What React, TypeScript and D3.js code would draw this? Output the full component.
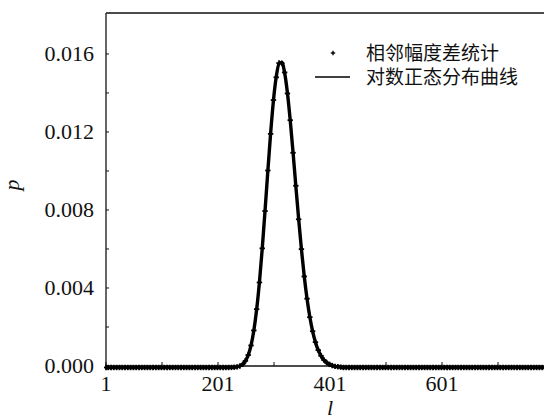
import React from "react";
import * as d3 from "d3";

// l values (step 5) in the peak region and observed statistics p
const peakL = [215,220,225,230,235,240,245,250,255,260,265,270,275,280,285,290,295,300,305,310,315,320,325,330,335,340,345,350,355,360,365,370,375,380,385,390,395,400,405,410,415,420];
const statP = [0,0.000001,0.000004,0.000012,0.00003,0.000075,0.00016,0.00034,0.00064,0.00113,0.0019,0.00299,0.00436,0.00611,0.00802,0.01010,0.01198,0.01371,0.01488,0.01561,0.01560,0.01513,0.01405,0.01268,0.01101,0.00932,0.00760,0.00607,0.00467,0.00353,0.00258,0.00186,0.00130,0.00089,0.0006,0.00039,0.00025,0.00016,0.0001,0.00006,0.00004,0.00002];
// fitted log-normal curve sampled at the same l
const fitP = [0,0.000001,0.000004,0.000011,0.00003,0.000073,0.000163,0.000336,0.000641,0.00114,0.0019,0.002973,0.004382,0.006095,0.008041,0.010076,0.012015,0.013686,0.014906,0.015577,0.015635,0.015108,0.014078,0.012667,0.011033,0.009305,0.007616,0.006053,0.004681,0.003524,0.002589,0.001857,0.0013,0.000889,0.000598,0.000393,0.000252,0.00016,0.000099,0.000061,0.000036,0.000021];
const lRange = [1, 1000]; // sampled l range; outside the peak p = 0
const xTicks = [1, 201, 401, 601];
const yTicks = [0, 0.004, 0.008, 0.012, 0.016];
const legendLabels = ["相邻幅度差统计", "对数正态分布曲线"];

export default function App() {
  const W = 544, H = 416;
  const x = d3.scaleLinear().domain([1, 1001]).range([106, 666]);
  const y = d3.scaleLinear().domain([0, 0.0181]).range([366, 13]);
  const yData = d3.scaleLinear().domain([0, 0.0181]).range([367.5, 14.5]);

  const allL = [lRange[0], ...d3.range(5, lRange[1] + 1, 5)];
  const pts = allL.map((l) => {
    const i = peakL.indexOf(l);
    return { l, p: i >= 0 ? statP[i] : 0 };
  });
  const fitPts = allL.map((l) => {
    const i = peakL.indexOf(l);
    return { l, p: i >= 0 ? fitP[i] : 0 };
  });
  const line = d3.line<{ l: number; p: number }>().x((d) => x(d.l)).y((d) => yData(d.p)).curve(d3.curveMonotoneX);

  const minorX = d3.range(101, 1001, 200);
  const minorY = [0.002, 0.006, 0.01, 0.014];
  const serif = "'Liberation Serif', serif";
  const cjk = "'Noto Sans CJK SC', sans-serif";
  const plus = (cx: number, cy: number, s: number, k: string, sw = 1.6) => (
    <g key={k}>
      <line x1={cx - s} x2={cx + s} y1={cy} y2={cy} stroke="#000" strokeWidth={sw} />
      <line x1={cx} x2={cx} y1={cy - s} y2={cy + s} stroke="#000" strokeWidth={sw} />
    </g>
  );

  return (
    <svg width={W} height={H} style={{ position: "absolute", left: 0, top: 0, background: "#fff" }}>
      <defs>
        <clipPath id="plot">
          <rect x={104} y={0} width={W} height={H} />
        </clipPath>
      </defs>
      {/* frame */}
      <line x1={106} x2={W} y1={13} y2={13} stroke="#111" strokeWidth={1.5} />
      <line x1={106} x2={106} y1={13} y2={366} stroke="#333" strokeWidth={1.5} />
      <line x1={106} x2={W} y1={366} y2={366} stroke="#111" strokeWidth={1.3} />
      {/* y ticks */}
      {yTicks.map((t) => (
        <g key={"y" + t}>
          <line x1={106} x2={109} y1={y(t)} y2={y(t)} stroke="#111" strokeWidth={1} />
          <text x={94} y={y(t) + 7} textAnchor="end" fontFamily={serif} fontSize={22} fill="#111">
            {t.toFixed(3)}
          </text>
        </g>
      ))}
      {minorY.map((t) => (
        <line key={"my" + t} x1={106} x2={109} y1={y(t)} y2={y(t)} stroke="#111" strokeWidth={1} />
      ))}
      {/* x ticks */}
      {xTicks.map((t) => (
        <g key={"x" + t}>
          <line x1={x(t)} x2={x(t)} y1={366} y2={362} stroke="#111" strokeWidth={1} />
          <text x={x(t)} y={391} textAnchor="middle" fontFamily={serif} fontSize={22} fill="#111">
            {t}
          </text>
        </g>
      ))}
      {minorX.map((t) => (
        <line key={"mx" + t} x1={x(t)} x2={x(t)} y1={366} y2={362} stroke="#111" strokeWidth={1} />
      ))}
      {/* data */}
      <g clipPath="url(#plot)">
        <path d={line(fitPts) || ""} fill="none" stroke="#000" strokeWidth={3.4} />
        {pts.map((d, i) => plus(x(d.l), yData(d.p), 2.7, "p" + i, 1.8))}
      </g>
      {/* axis titles */}
      <text x={330} y={415} textAnchor="middle" fontFamily={serif} fontStyle="italic" fontSize={22} fill="#111">l</text>
      <text transform="translate(19,185) rotate(-90)" textAnchor="middle" fontFamily={serif} fontStyle="italic" fontSize={22} fill="#111">p</text>
      {/* legend */}
      {plus(333, 53, 2.2, "lg", 1.4)}
      <line x1={315} x2={350} y1={77} y2={77} stroke="#000" strokeWidth={1.5} />
      <text x={366} y={60} fontFamily={cjk} fontSize={19} fill="#111">{legendLabels[0]}</text>
      <text x={366} y={84} fontFamily={cjk} fontSize={19} fill="#111">{legendLabels[1]}</text>
    </svg>
  );
}
